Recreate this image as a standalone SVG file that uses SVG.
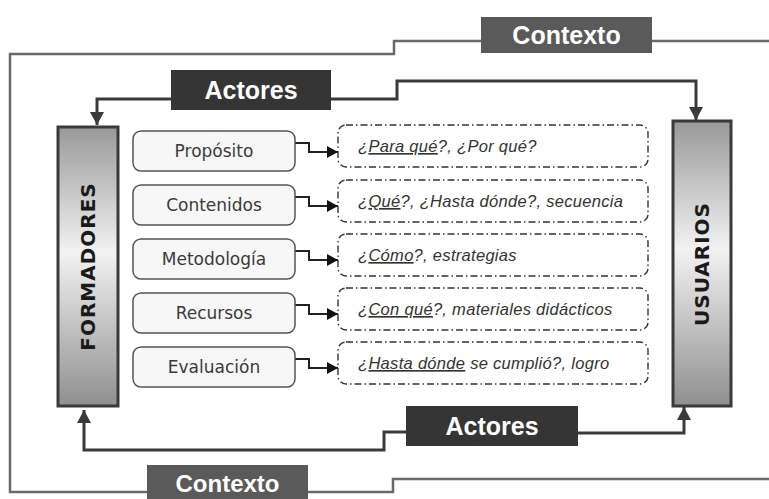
<svg xmlns="http://www.w3.org/2000/svg" width="769" height="499" viewBox="0 0 769 499">
<style>
.ctx{fill:none;stroke:#6a6a6a;stroke-width:2.5}
.act{fill:none;stroke:#3a3a3a;stroke-width:3}
.lnk{fill:none;stroke:#222;stroke-width:2}
.hdrC{fill:#5a5a5a}
.hdrA{fill:#353535}
.hdrT{font-family:"Liberation Sans",Arial,sans-serif;font-weight:bold;font-size:25px;fill:#fff;text-anchor:middle}
.bar{fill:url(#barG);stroke:#3a3a3a;stroke-width:3}
.barT{font-family:"DejaVu Sans",Verdana,sans-serif;font-weight:bold;font-size:20px;fill:#1a1a1a;text-anchor:middle;letter-spacing:1px}
.box{fill:#f7f7f7;stroke:#555;stroke-width:1.5}
.boxT{font-family:"DejaVu Sans",Verdana,sans-serif;font-size:17px;fill:#3a3a3a;text-anchor:middle}
.q{fill:#fff;stroke:#333;stroke-width:1.4;stroke-dasharray:7 3 1.5 3}
.qT{font-family:"Liberation Sans",Arial,sans-serif;font-style:italic;font-size:16.5px;fill:#333;letter-spacing:0.3px}
.u{text-decoration:underline}
</style>
<defs>
<linearGradient id="barG" x1="0" y1="0" x2="0" y2="1">
<stop offset="0" stop-color="#999"/>
<stop offset="0.45" stop-color="#f2f2f2"/>
<stop offset="1" stop-color="#8f8f8f"/>
</linearGradient>
<marker id="arrA" markerUnits="userSpaceOnUse" markerWidth="14" markerHeight="14" refX="13" refY="7" orient="auto">
<path d="M0,0 L13,7 L0,14 z" fill="#3a3a3a"/>
</marker>
<marker id="arrL" markerUnits="userSpaceOnUse" markerWidth="12" markerHeight="12" refX="11" refY="6" orient="auto">
<path d="M0,0 L11,6 L0,12 z" fill="#111"/>
</marker>
</defs>
<rect width="769" height="499" fill="#fff"/>
<g id="connectors">
<path class="ctx" d="M769,41 H652 M481,41 H394 V54 H10 V492 H147 M308,492 H393 V479 H769"/>
<path class="act" marker-end="url(#arrA)" d="M171,99 H97 V125"/>
<path class="act" marker-end="url(#arrA)" d="M331,99 H397 V81 H696 V120"/>
<path class="act" marker-end="url(#arrA)" d="M406,432 H384 V450 H84 V410"/>
<path class="act" marker-end="url(#arrA)" d="M578,433 H684 V407"/>
<path class="lnk" marker-end="url(#arrL)" d="M295,143 H309 V152 H338"/>
<path class="lnk" marker-end="url(#arrL)" d="M295,197 H309 V206 H338"/>
<path class="lnk" marker-end="url(#arrL)" d="M295,251 H309 V260 H338"/>
<path class="lnk" marker-end="url(#arrL)" d="M295,305 H309 V314 H338"/>
<path class="lnk" marker-end="url(#arrL)" d="M295,359 H309 V368 H338"/>
</g>
<g id="contexto-top"><rect class="hdrC" x="481" y="17" width="171" height="36"/><text class="hdrT" x="566.5" y="44">Contexto</text></g>
<g id="contexto-bottom"><rect class="hdrC" x="147" y="465" width="161" height="34"/><text class="hdrT" x="227.5" y="492" style="font-size:24px">Contexto</text></g>
<g id="actores-top"><rect class="hdrA" x="171" y="70" width="160" height="40"/><text class="hdrT" x="251" y="99">Actores</text></g>
<g id="actores-bottom"><rect class="hdrA" x="406" y="406" width="172" height="40"/><text class="hdrT" x="492" y="435">Actores</text></g>
<g id="formadores"><rect class="bar" x="58" y="127" width="60" height="279"/><text class="barT" transform="translate(95,266.5) rotate(-90)">FORMADORES</text></g>
<g id="usuarios"><rect class="bar" x="673" y="121" width="58" height="285"/><text class="barT" transform="translate(709,264) rotate(-90)">USUARIOS</text></g>
<g id="proposito"><rect class="box" x="133" y="131" width="162" height="40" rx="8"/><text class="boxT" x="214" y="157">Propósito</text></g>
<g id="contenidos"><rect class="box" x="133" y="185" width="162" height="40" rx="8"/><text class="boxT" x="214" y="211">Contenidos</text></g>
<g id="metodologia"><rect class="box" x="133" y="239" width="162" height="40" rx="8"/><text class="boxT" x="214" y="265">Metodología</text></g>
<g id="recursos"><rect class="box" x="133" y="293" width="162" height="40" rx="8"/><text class="boxT" x="214" y="319">Recursos</text></g>
<g id="evaluacion"><rect class="box" x="133" y="347" width="162" height="40" rx="8"/><text class="boxT" x="214" y="373">Evaluación</text></g>
<g id="q1"><rect class="q" x="338" y="125" width="310" height="42" rx="8"/><text class="qT" x="358" y="152">¿<tspan class="u">Para qué</tspan>?, ¿Por qué?</text></g>
<g id="q2"><rect class="q" x="338" y="180" width="310" height="42" rx="8"/><text class="qT" x="358" y="207">¿<tspan class="u">Qué</tspan>?, ¿Hasta dónde?, secuencia</text></g>
<g id="q3"><rect class="q" x="338" y="234" width="310" height="42" rx="8"/><text class="qT" x="358" y="261">¿<tspan class="u">Cómo</tspan>?, estrategias</text></g>
<g id="q4"><rect class="q" x="338" y="288" width="310" height="42" rx="8"/><text class="qT" x="358" y="315">¿<tspan class="u">Con qué</tspan>?, materiales didácticos</text></g>
<g id="q5"><rect class="q" x="338" y="342" width="310" height="42" rx="8"/><text class="qT" x="358" y="369">¿<tspan class="u">Hasta dónde</tspan> se cumplió?, logro</text></g>
</svg>
